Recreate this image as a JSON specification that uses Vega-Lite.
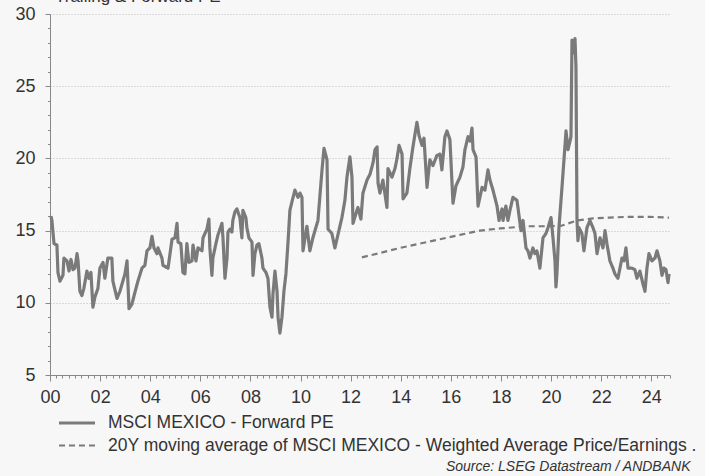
{
 "$schema": "https://vega.github.io/schema/vega-lite/v6.json",
 "width": 620,
 "height": 361,
 "autosize": {"type": "none"},
 "padding": {"left": 50, "top": 14, "right": 35, "bottom": 101},
 "background": "#f7f7f7",
 "title": {"text": "Trailing & Forward PE", "anchor": "start", "frame": "group", "baseline": "alphabetic", "offset": 0, "dx": 5, "dy": 14, "fontSize": 17, "fontWeight": "normal", "color": "#333333", "font": "Liberation Sans"},
 "config": {"view": {"stroke": null}, "font": "Liberation Sans"},
 "data": {"values": [
  {"date":"2000-01-15","s":"pe","v":16.0},{"date":"2000-01-29","s":"pe","v":15.7},{"date":"2000-02-28","s":"pe","v":14.1},{"date":"2000-04-11","s":"pe","v":14.0},{"date":"2000-04-26","s":"pe","v":12.1},{"date":"2000-05-25","s":"pe","v":11.5},{"date":"2000-07-08","s":"pe","v":11.9},{"date":"2000-07-22","s":"pe","v":13.1},{"date":"2000-09-05","s":"pe","v":12.9},{"date":"2000-10-04","s":"pe","v":12.2},{"date":"2000-11-02","s":"pe","v":13.0},{"date":"2000-12-01","s":"pe","v":12.3},{"date":"2000-12-30","s":"pe","v":12.4},
  {"date":"2001-01-29","s":"pe","v":13.4},{"date":"2001-02-13","s":"pe","v":12.9},{"date":"2001-03-12","s":"pe","v":10.8},{"date":"2001-04-10","s":"pe","v":10.5},{"date":"2001-05-09","s":"pe","v":11.0},{"date":"2001-06-22","s":"pe","v":12.2},{"date":"2001-07-21","s":"pe","v":11.7},{"date":"2001-08-20","s":"pe","v":12.1},{"date":"2001-09-18","s":"pe","v":9.7},{"date":"2001-10-17","s":"pe","v":10.4},{"date":"2001-11-30","s":"pe","v":11.0},{"date":"2001-12-29","s":"pe","v":12.4},
  {"date":"2002-02-12","s":"pe","v":12.8},{"date":"2002-03-11","s":"pe","v":11.7},{"date":"2002-04-24","s":"pe","v":13.1},{"date":"2002-06-21","s":"pe","v":13.1},{"date":"2002-07-06","s":"pe","v":11.5},{"date":"2002-09-04","s":"pe","v":10.3},{"date":"2002-10-17","s":"pe","v":10.8},{"date":"2002-11-16","s":"pe","v":11.3},{"date":"2002-12-29","s":"pe","v":12.0},
  {"date":"2003-01-28","s":"pe","v":12.9},{"date":"2003-02-26","s":"pe","v":9.6},{"date":"2003-04-09","s":"pe","v":9.9},{"date":"2003-05-22","s":"pe","v":10.7},{"date":"2003-07-06","s":"pe","v":11.5},{"date":"2003-09-03","s":"pe","v":12.4},{"date":"2003-10-16","s":"pe","v":12.6},{"date":"2003-11-15","s":"pe","v":13.6},{"date":"2003-12-28","s":"pe","v":13.8},
  {"date":"2004-01-27","s":"pe","v":14.6},{"date":"2004-02-25","s":"pe","v":13.8},{"date":"2004-04-09","s":"pe","v":13.4},{"date":"2004-04-23","s":"pe","v":13.8},{"date":"2004-06-20","s":"pe","v":13.1},{"date":"2004-07-05","s":"pe","v":12.6},{"date":"2004-09-17","s":"pe","v":12.4},{"date":"2004-11-14","s":"pe","v":14.4},{"date":"2004-12-27","s":"pe","v":14.5},
  {"date":"2005-01-26","s":"pe","v":15.5},{"date":"2005-02-10","s":"pe","v":14.2},{"date":"2005-03-23","s":"pe","v":14.1},{"date":"2005-04-22","s":"pe","v":12.1},{"date":"2005-05-21","s":"pe","v":12.0},{"date":"2005-06-19","s":"pe","v":14.1},{"date":"2005-07-18","s":"pe","v":12.8},{"date":"2005-09-01","s":"pe","v":12.9},{"date":"2005-09-16","s":"pe","v":14.0},{"date":"2005-10-29","s":"pe","v":12.9},{"date":"2005-11-28","s":"pe","v":13.8},
  {"date":"2006-01-25","s":"pe","v":13.6},{"date":"2006-02-09","s":"pe","v":14.5},{"date":"2006-04-07","s":"pe","v":15.1},{"date":"2006-05-06","s":"pe","v":15.8},{"date":"2006-05-20","s":"pe","v":13.8},{"date":"2006-06-19","s":"pe","v":11.9},{"date":"2006-07-03","s":"pe","v":13.1},{"date":"2006-08-16","s":"pe","v":14.1},{"date":"2006-09-15","s":"pe","v":14.7},{"date":"2006-11-12","s":"pe","v":15.5},{"date":"2006-11-27","s":"pe","v":14.5},{"date":"2006-12-26","s":"pe","v":11.7},
  {"date":"2007-01-25","s":"pe","v":13.1},{"date":"2007-02-08","s":"pe","v":14.9},{"date":"2007-03-08","s":"pe","v":15.1},{"date":"2007-04-06","s":"pe","v":14.9},{"date":"2007-04-20","s":"pe","v":15.7},{"date":"2007-05-20","s":"pe","v":16.3},{"date":"2007-06-18","s":"pe","v":16.5},{"date":"2007-08-01","s":"pe","v":15.9},{"date":"2007-08-30","s":"pe","v":14.5},{"date":"2007-09-14","s":"pe","v":16.4},{"date":"2007-10-27","s":"pe","v":15.9},{"date":"2007-11-11","s":"pe","v":15.2},{"date":"2007-12-10","s":"pe","v":14.5},
  {"date":"2008-01-24","s":"pe","v":14.2},{"date":"2008-02-08","s":"pe","v":11.9},{"date":"2008-03-07","s":"pe","v":13.4},{"date":"2008-04-05","s":"pe","v":14.0},{"date":"2008-05-04","s":"pe","v":14.1},{"date":"2008-06-17","s":"pe","v":13.1},{"date":"2008-07-02","s":"pe","v":12.4},{"date":"2008-08-15","s":"pe","v":12.1},{"date":"2008-09-13","s":"pe","v":11.7},{"date":"2008-10-12","s":"pe","v":9.7},{"date":"2008-11-11","s":"pe","v":9.0},{"date":"2008-11-25","s":"pe","v":10.6},{"date":"2008-12-24","s":"pe","v":12.2},
  {"date":"2009-01-23","s":"pe","v":10.8},{"date":"2009-02-07","s":"pe","v":9.0},{"date":"2009-03-06","s":"pe","v":7.9},{"date":"2009-04-05","s":"pe","v":9.0},{"date":"2009-05-04","s":"pe","v":10.8},{"date":"2009-06-02","s":"pe","v":12.0},{"date":"2009-07-01","s":"pe","v":14.1},{"date":"2009-07-30","s":"pe","v":16.4},{"date":"2009-08-29","s":"pe","v":17.0},{"date":"2009-10-11","s":"pe","v":17.8},{"date":"2009-11-25","s":"pe","v":17.3},{"date":"2009-12-24","s":"pe","v":17.6},
  {"date":"2010-01-22","s":"pe","v":17.3},{"date":"2010-02-06","s":"pe","v":13.6},{"date":"2010-04-04","s":"pe","v":15.3},{"date":"2010-05-17","s":"pe","v":13.6},{"date":"2010-06-30","s":"pe","v":14.5},{"date":"2010-09-12","s":"pe","v":15.7},{"date":"2010-11-10","s":"pe","v":19.2},{"date":"2010-12-09","s":"pe","v":20.7},
  {"date":"2011-01-22","s":"pe","v":19.9},{"date":"2011-02-06","s":"pe","v":15.1},{"date":"2011-04-03","s":"pe","v":14.8},{"date":"2011-05-17","s":"pe","v":13.8},{"date":"2011-06-30","s":"pe","v":14.7},{"date":"2011-08-27","s":"pe","v":15.9},{"date":"2011-10-10","s":"pe","v":17.1},{"date":"2011-11-09","s":"pe","v":18.7},{"date":"2011-12-22","s":"pe","v":20.1},
  {"date":"2012-01-21","s":"pe","v":18.7},{"date":"2012-02-05","s":"pe","v":15.5},{"date":"2012-04-02","s":"pe","v":16.4},{"date":"2012-04-17","s":"pe","v":16.6},{"date":"2012-05-30","s":"pe","v":15.8},{"date":"2012-06-29","s":"pe","v":17.6},{"date":"2012-08-27","s":"pe","v":18.5},{"date":"2012-10-10","s":"pe","v":18.9},{"date":"2012-11-23","s":"pe","v":19.7},{"date":"2012-12-22","s":"pe","v":20.6},
  {"date":"2013-01-21","s":"pe","v":20.8},{"date":"2013-02-04","s":"pe","v":18.3},{"date":"2013-03-04","s":"pe","v":17.6},{"date":"2013-04-16","s":"pe","v":18.5},{"date":"2013-06-14","s":"pe","v":16.6},{"date":"2013-06-29","s":"pe","v":19.3},{"date":"2013-08-26","s":"pe","v":18.7},{"date":"2013-10-09","s":"pe","v":19.3},{"date":"2013-11-08","s":"pe","v":20.0},{"date":"2013-12-07","s":"pe","v":20.9},
  {"date":"2014-01-20","s":"pe","v":20.3},{"date":"2014-02-04","s":"pe","v":17.2},{"date":"2014-04-01","s":"pe","v":17.6},{"date":"2014-05-14","s":"pe","v":19.3},{"date":"2014-06-28","s":"pe","v":20.8},{"date":"2014-08-25","s":"pe","v":22.5},{"date":"2014-09-24","s":"pe","v":21.6},{"date":"2014-11-07","s":"pe","v":20.9},{"date":"2014-12-06","s":"pe","v":21.4},
  {"date":"2015-01-19","s":"pe","v":18.0},{"date":"2015-03-02","s":"pe","v":19.9},{"date":"2015-04-15","s":"pe","v":19.5},{"date":"2015-06-12","s":"pe","v":20.2},{"date":"2015-07-26","s":"pe","v":20.3},{"date":"2015-08-24","s":"pe","v":19.2},{"date":"2015-10-07","s":"pe","v":21.5},{"date":"2015-11-06","s":"pe","v":21.9},{"date":"2015-12-19","s":"pe","v":21.3},
  {"date":"2016-02-02","s":"pe","v":16.9},{"date":"2016-03-16","s":"pe","v":18.1},{"date":"2016-05-13","s":"pe","v":18.7},{"date":"2016-06-26","s":"pe","v":19.4},{"date":"2016-07-25","s":"pe","v":20.6},{"date":"2016-09-08","s":"pe","v":21.5},{"date":"2016-10-07","s":"pe","v":21.2},{"date":"2016-11-05","s":"pe","v":22.1},{"date":"2016-11-20","s":"pe","v":20.6},
  {"date":"2017-01-03","s":"pe","v":20.1},{"date":"2017-02-01","s":"pe","v":16.7},{"date":"2017-04-01","s":"pe","v":18.0},{"date":"2017-05-13","s":"pe","v":17.8},{"date":"2017-06-26","s":"pe","v":19.2},{"date":"2017-07-25","s":"pe","v":18.5},{"date":"2017-09-07","s":"pe","v":17.8},{"date":"2017-11-05","s":"pe","v":16.7},{"date":"2017-12-04","s":"pe","v":15.7},
  {"date":"2018-01-17","s":"pe","v":16.5},{"date":"2018-02-01","s":"pe","v":15.7},{"date":"2018-03-14","s":"pe","v":16.7},{"date":"2018-04-13","s":"pe","v":15.7},{"date":"2018-05-12","s":"pe","v":16.4},{"date":"2018-06-25","s":"pe","v":17.3},{"date":"2018-08-22","s":"pe","v":17.1},{"date":"2018-09-06","s":"pe","v":16.6},{"date":"2018-10-20","s":"pe","v":15.0},{"date":"2018-11-19","s":"pe","v":15.7},
  {"date":"2019-01-01","s":"pe","v":13.8},{"date":"2019-01-30","s":"pe","v":13.6},{"date":"2019-02-28","s":"pe","v":13.1},{"date":"2019-04-12","s":"pe","v":13.8},{"date":"2019-05-11","s":"pe","v":13.4},{"date":"2019-06-09","s":"pe","v":13.6},{"date":"2019-07-23","s":"pe","v":12.4},{"date":"2019-09-06","s":"pe","v":14.5},{"date":"2019-10-19","s":"pe","v":14.8},{"date":"2019-11-18","s":"pe","v":15.2},
  {"date":"2020-01-01","s":"pe","v":15.9},{"date":"2020-01-30","s":"pe","v":14.5},{"date":"2020-02-28","s":"pe","v":12.9},{"date":"2020-03-13","s":"pe","v":11.1},{"date":"2020-03-27","s":"pe","v":12.0},{"date":"2020-04-26","s":"pe","v":15.2},{"date":"2020-06-09","s":"pe","v":18.0},{"date":"2020-07-08","s":"pe","v":19.9},{"date":"2020-08-07","s":"pe","v":21.9},{"date":"2020-09-05","s":"pe","v":20.6},{"date":"2020-10-18","s":"pe","v":21.5},{"date":"2020-11-02","s":"pe","v":28.2},{"date":"2020-11-17","s":"pe","v":27.3},{"date":"2020-12-16","s":"pe","v":28.3},{"date":"2020-12-30","s":"pe","v":26.3},
  {"date":"2021-01-14","s":"pe","v":15.7},{"date":"2021-01-28","s":"pe","v":14.3},{"date":"2021-02-12","s":"pe","v":15.2},{"date":"2021-03-26","s":"pe","v":14.8},{"date":"2021-04-25","s":"pe","v":13.6},{"date":"2021-06-08","s":"pe","v":15.2},{"date":"2021-07-21","s":"pe","v":15.7},{"date":"2021-09-04","s":"pe","v":15.2},{"date":"2021-10-03","s":"pe","v":14.8},{"date":"2021-11-02","s":"pe","v":13.4},{"date":"2021-12-15","s":"pe","v":14.5},
  {"date":"2022-01-28","s":"pe","v":13.8},{"date":"2022-02-27","s":"pe","v":15.0},{"date":"2022-03-26","s":"pe","v":14.1},{"date":"2022-05-09","s":"pe","v":12.9},{"date":"2022-06-22","s":"pe","v":12.4},{"date":"2022-07-21","s":"pe","v":12.0},{"date":"2022-09-03","s":"pe","v":11.7},{"date":"2022-11-01","s":"pe","v":13.1},{"date":"2022-11-30","s":"pe","v":12.9},{"date":"2022-12-29","s":"pe","v":13.8},
  {"date":"2023-01-28","s":"pe","v":12.4},{"date":"2023-03-25","s":"pe","v":12.4},{"date":"2023-05-08","s":"pe","v":12.3},{"date":"2023-06-07","s":"pe","v":11.7},{"date":"2023-07-20","s":"pe","v":12.2},{"date":"2023-09-03","s":"pe","v":11.3},{"date":"2023-10-02","s":"pe","v":10.8},{"date":"2023-10-31","s":"pe","v":12.4},{"date":"2023-11-29","s":"pe","v":13.4},
  {"date":"2024-01-12","s":"pe","v":12.9},{"date":"2024-02-25","s":"pe","v":13.1},{"date":"2024-03-25","s":"pe","v":13.6},{"date":"2024-05-07","s":"pe","v":12.9},{"date":"2024-06-06","s":"pe","v":11.9},{"date":"2024-07-05","s":"pe","v":12.4},{"date":"2024-08-03","s":"pe","v":12.3},{"date":"2024-09-02","s":"pe","v":11.4},{"date":"2024-09-17","s":"pe","v":12.0},
  {"date":"2012-06-14","s":"ma","v":13.15},{"date":"2013-03-04","s":"ma","v":13.45},{"date":"2013-12-22","s":"ma","v":13.8},{"date":"2014-10-08","s":"ma","v":14.1},{"date":"2015-07-26","s":"ma","v":14.4},{"date":"2016-05-13","s":"ma","v":14.7},{"date":"2017-03-01","s":"ma","v":15.0},{"date":"2017-12-18","s":"ma","v":15.15},{"date":"2019-01-16","s":"ma","v":15.3},{"date":"2019-12-16","s":"ma","v":15.3},{"date":"2020-06-09","s":"ma","v":15.35},{"date":"2021-01-14","s":"ma","v":15.7},{"date":"2021-09-04","s":"ma","v":15.85},{"date":"2022-05-09","s":"ma","v":15.9},{"date":"2023-01-13","s":"ma","v":15.95},{"date":"2023-12-14","s":"ma","v":15.95},{"date":"2024-09-17","s":"ma","v":15.9}
 ]},
 "mark": {"type": "line", "color": "#7a7a7a", "strokeJoin": "round"},
 "encoding": {
  "x": {"field": "date", "type": "temporal",
   "scale": {"type": "utc", "domain": [{"year": 2000, "month": 1, "date": 1, "utc": true}, {"year": 2024, "month": 10, "date": 1, "utc": true}]},
   "axis": {"title": "Source: LSEG Datastream / ANDBANK", "titleFontStyle": "italic", "titleFontWeight": "normal", "titleFontSize": 14, "titleColor": "#333333", "titleAlign": "right", "titleX": 640, "titleY": 91, "titleBaseline": "middle",
    "tickCount": {"interval": "month", "step": 3},
    "labelExpr": "utcmonth(datum.value) === 0 && utcyear(datum.value) % 2 === 0 ? utcFormat(datum.value, '%y') : ''",
    "labelOverlap": false, "labelFlush": false, "labelFontSize": 18, "labelColor": "#333333", "labelPadding": 7,
    "tickSize": {"condition": {"test": "utcmonth(datum.value) === 0 && utcyear(datum.value) % 2 === 0", "value": 6}, "value": 3},
    "tickColor": "#888888", "domainColor": "#888888", "grid": false}},
  "y": {"field": "v", "type": "quantitative",
   "scale": {"domain": [5, 30], "nice": false, "zero": false},
   "axis": {"title": null, "values": [5,6,7,8,9,10,11,12,13,14,15,16,17,18,19,20,21,22,23,24,25,26,27,28,29,30],
    "labelExpr": "datum.value % 5 === 0 ? datum.label : ''",
    "tickSize": {"condition": {"test": "datum.value % 5 === 0", "value": 5}, "value": 2.5},
    "grid": true, "gridColor": "#bbbbbb", "gridDash": [1, 2],
    "gridOpacity": {"condition": {"test": "datum.value % 5 === 0 && datum.value > 5", "value": 1}, "value": 0},
    "labelFontSize": 18, "labelColor": "#333333", "labelPadding": 10, "tickColor": "#888888", "domainColor": "#888888"}},
  "strokeDash": {"field": "s", "type": "nominal",
   "scale": {"domain": ["pe", "ma"], "range": [[1, 0], [6, 4]]},
   "legend": {"orient": "none", "legendX": 15, "legendY": 397, "direction": "vertical", "title": null,
    "symbolType": "M-1.8,0H1.8", "symbolSize": 400, "symbolStrokeColor": "#7a7a7a", "symbolStrokeWidth": 2.5,
    "labelExpr": "datum.label === 'pe' ? 'MSCI MEXICO - Forward PE' : '20Y moving average of MSCI MEXICO - Weighted Average Price/Earnings .'",
    "labelFontSize": 17.5, "labelColor": "#333333", "labelLimit": 800, "labelOffset": 19, "rowPadding": 2, "padding": 0}},
  "strokeWidth": {"field": "s", "type": "ordinal", "scale": {"domain": ["pe", "ma"], "range": [3.2, 2.2]}, "legend": null}
 }
}
